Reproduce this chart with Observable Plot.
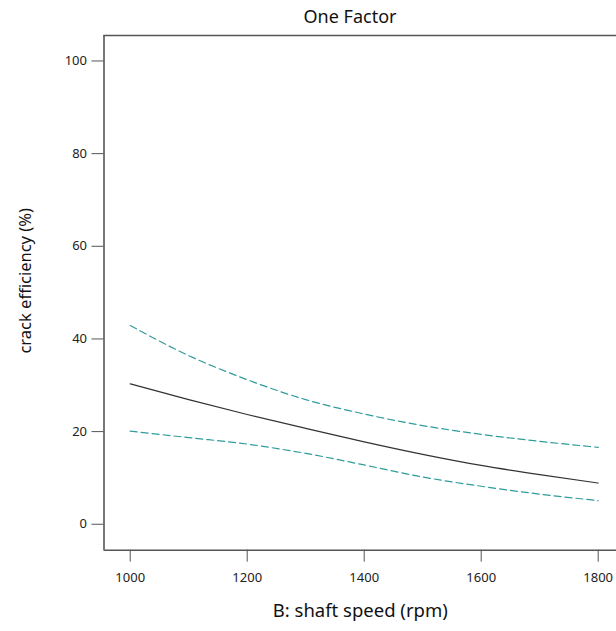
<!DOCTYPE html>
<html>
<head>
<meta charset="utf-8">
<script src="https://cdn.jsdelivr.net/npm/d3@7"></script>
<script src="https://cdn.jsdelivr.net/npm/@observablehq/plot@0.6"></script>
<style>
  body { margin: 0; background: #fff; font-family: "Noto Sans", "Open Sans", sans-serif; }
  #wrap { position: relative; width: 616px; height: 631px; overflow: hidden; }
  #title { position: absolute; top: 4px; left: 350px; transform: translateX(-50%); font-size: 18px; color: #111; white-space: nowrap; }
  #chart { position: absolute; top: 0; left: 0; }
</style>
</head>
<body>
<div id="wrap">
  <div id="title">One Factor</div>
  <div id="chart"></div>
</div>
<script>
const speed = [1000, 1100, 1200, 1300, 1400, 1500, 1600, 1700, 1800];
const fit   = [30.3, 26.9, 23.7, 20.7, 17.8, 15.1, 12.7, 10.7, 8.9];
const upper = [42.9, 36.4, 31.2, 26.9, 23.8, 21.3, 19.4, 17.9, 16.6];
const lower = [20.1, 18.7, 17.3, 15.3, 12.8, 10.2, 8.2, 6.5, 5.1];
const xTicks = [1000, 1200, 1400, 1600, 1800];
const yTicks = [0, 20, 40, 60, 80, 100];
const xLabel = "B: shaft speed (rpm)";
const yLabel = "crack efficiency (%)";
const xDomain = [955.2, 1831.3];
const yDomain = [-5.6, 105.5];

const rows = speed.map((s, i) => ({s, fit: fit[i], upper: upper[i], lower: lower[i]}));
const frameColor = "#555";
const teal = "#2f9c9c";

const chart = Plot.plot({
  width: 616,
  height: 631,
  marginTop: 35,
  marginLeft: 103.5,
  marginRight: 0,
  marginBottom: 81.3,
  style: {fontFamily: "'Noto Sans', 'Open Sans', sans-serif", background: "transparent"},
  x: {domain: xDomain},
  y: {domain: yDomain},
  marks: [
    Plot.axisY({ticks: yTicks, tickSize: 12, tickPadding: 5, fontSize: 13, stroke: frameColor, color: "#222", label: null}),
    Plot.axisX({ticks: xTicks, tickSize: 12, tickPadding: 11, fontSize: 13, stroke: frameColor, color: "#222", label: null, tickFormat: d => String(d)}),
    Plot.ruleX([xDomain[0]], {stroke: frameColor, strokeWidth: 1.6}),
    Plot.ruleY([yDomain[0]], {stroke: frameColor, strokeWidth: 1.6}),
    Plot.ruleY([yDomain[1]], {stroke: frameColor, strokeWidth: 1.6}),
    Plot.line(rows, {x: "s", y: "upper", stroke: teal, strokeWidth: 1.2, strokeDasharray: "7,4", curve: "monotone-x"}),
    Plot.line(rows, {x: "s", y: "lower", stroke: teal, strokeWidth: 1.2, strokeDasharray: "7,4", curve: "monotone-x"}),
    Plot.line(rows, {x: "s", y: "fit", stroke: "#333", strokeWidth: 1.2, curve: "monotone-x"}),
    Plot.text([yLabel], {frameAnchor: "left", textAnchor: "middle", dx: -78.5, dy: -12, rotate: -90, fontSize: 16.5, fill: "#111", text: d => d}),
    Plot.text([xLabel], {frameAnchor: "bottom", textAnchor: "middle", dy: 66.5, fontSize: 18.5, fill: "#111", text: d => d})
  ]
});
document.getElementById("chart").append(chart);
</script>
</body>
</html>
